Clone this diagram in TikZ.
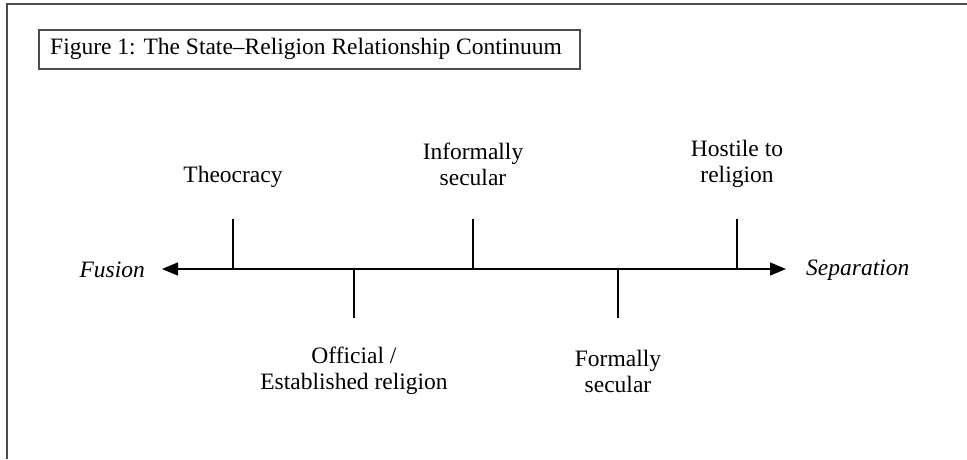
\documentclass[tikz,border=0pt]{standalone}
\usepackage{fontspec}
\setmainfont{Liberation Serif}
\usetikzlibrary{arrows.meta}
\begin{document}
\begin{tikzpicture}[x=1pt,y=-1pt,
  frame/.style={draw=black!70,line width=2pt},
  axisline/.style={line width=1.4pt,{Triangle[length=16pt,width=13pt]}-{Triangle[length=16pt,width=13pt]}},
  tick/.style={line width=1.4pt},
  lab/.style={align=center,inner sep=0pt,font=\fontsize{23.5}{26}\selectfont},
  endlab/.style={inner sep=0pt,font=\fontsize{23.5}{26}\selectfont\itshape}]
\useasboundingbox (0,0) rectangle (967,459);
\draw[frame] (6.5,459) -- (6.5,4) -- (967,4);
\node[frame,draw,minimum width=541pt,minimum height=39pt,anchor=north west,inner sep=0pt] (title) at (38,29) {};
\node[lab,anchor=west] (titletext) at (50,49) {Figure 1: The State–Religion Relationship Continuum};
% axis
\coordinate (L) at (162,269);
\coordinate (R) at (786,269);
\draw[axisline] (L) -- (R);
% ticks
\coordinate (t1) at (233,269); \coordinate (t1e) at (233,219);
\coordinate (t2) at (354,269); \coordinate (t2e) at (354,318);
\coordinate (t3) at (473,269); \coordinate (t3e) at (473,219);
\coordinate (t4) at (618,269); \coordinate (t4e) at (618,318);
\coordinate (t5) at (737,269); \coordinate (t5e) at (737,219);
\draw[tick] (t1) -- (t1e);
\draw[tick] (t2) -- (t2e);
\draw[tick] (t3) -- (t3e);
\draw[tick] (t4) -- (t4e);
\draw[tick] (t5) -- (t5e);
% labels
\node[lab] (theo) at (233,177) {Theocracy};
\node[lab] (inf) at (473,164) {Informally\\secular};
\node[lab] (host) at (737,164) {Hostile to\\religion};
\node[lab] (off) at (354,371) {Official /\\Established religion};
\node[lab] (form) at (618,371) {Formally\\secular};
\node[endlab,anchor=east] (fus) at (145,270) {Fusion};
\node[endlab,anchor=west] (sep) at (806,270) {Separation};
\end{tikzpicture}
\end{document}
